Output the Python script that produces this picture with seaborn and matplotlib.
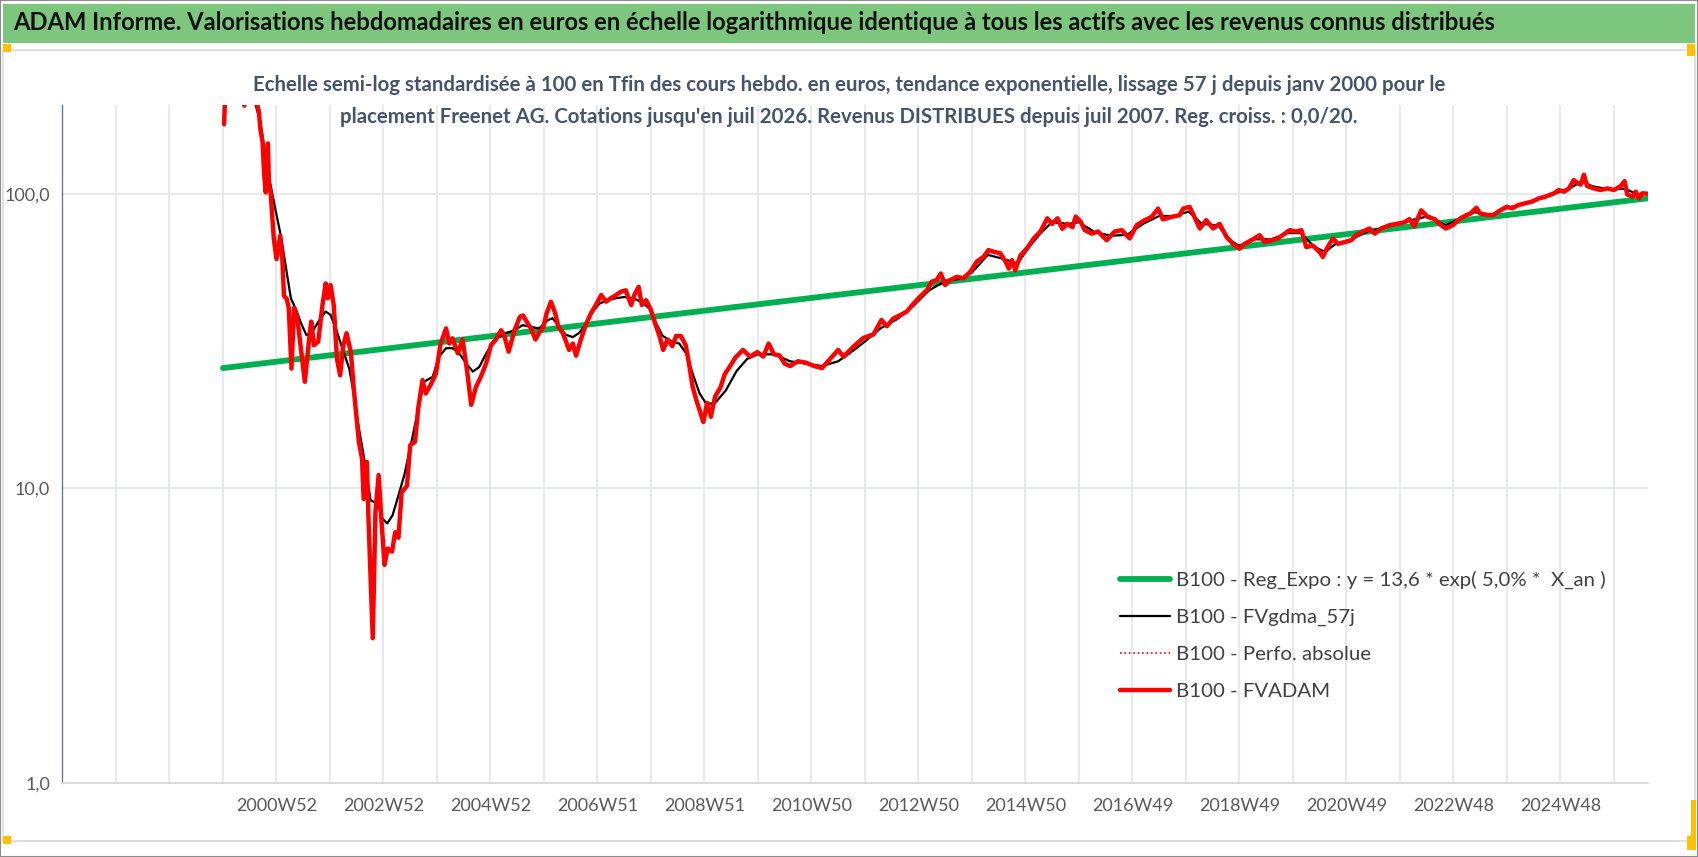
import numpy as np
import pandas as pd
import matplotlib
matplotlib.use('Agg')
import matplotlib.pyplot as plt
import seaborn as sns
from matplotlib.patches import Rectangle
from matplotlib.ticker import FixedLocator, NullLocator

# --- values (x = fractional year, y = base-100 value) ---
red_years = [2000.02, 2000.05, 2000.15, 2000.30, 2000.40, 2000.45, 2000.55, 2000.63, 2000.67, 2000.70,
             2000.74, 2000.77, 2000.80, 2000.84, 2000.86, 2000.89, 2000.95, 2001.00, 2001.07, 2001.11,
             2001.14, 2001.19, 2001.23, 2001.28, 2001.33, 2001.39, 2001.45, 2001.53, 2001.61, 2001.65,
             2001.70, 2001.78, 2001.86, 2001.92, 2001.96, 2002.01, 2002.07, 2002.13, 2002.19, 2002.25,
             2002.31, 2002.39, 2002.45, 2002.54, 2002.60, 2002.63, 2002.69, 2002.72, 2002.80, 2002.85,
             2002.91, 2002.96, 2003.02, 2003.08, 2003.16, 2003.22, 2003.28, 2003.34, 2003.44, 2003.50,
             2003.59, 2003.65, 2003.73, 2003.79, 2003.89, 2003.98, 2004.07, 2004.17, 2004.23, 2004.29,
             2004.39, 2004.48, 2004.57, 2004.64, 2004.73, 2004.82, 2004.92, 2005.01, 2005.10, 2005.20,
             2005.26, 2005.34, 2005.45, 2005.55, 2005.61, 2005.70, 2005.76, 2005.84, 2005.91, 2005.99,
             2006.05, 2006.13, 2006.21, 2006.27, 2006.35, 2006.41, 2006.47, 2006.54, 2006.60, 2006.69,
             2006.79, 2006.88, 2006.97, 2007.07, 2007.16, 2007.25, 2007.35, 2007.44, 2007.53, 2007.63,
             2007.69, 2007.77, 2007.83, 2007.91, 2008.00, 2008.08, 2008.16, 2008.23, 2008.31, 2008.40,
             2008.47, 2008.56, 2008.65, 2008.71, 2008.78, 2008.85, 2008.91, 2008.98, 2009.05, 2009.12,
             2009.20, 2009.30, 2009.38, 2009.48, 2009.58, 2009.72, 2009.85, 2009.99, 2010.10, 2010.20,
             2010.30, 2010.40, 2010.50, 2010.60, 2010.75, 2010.90, 2011.05, 2011.20, 2011.35, 2011.50,
             2011.60, 2011.78, 2011.97, 2012.16, 2012.31, 2012.41, 2012.53, 2012.66, 2012.78, 2012.91,
             2013.03, 2013.16, 2013.25, 2013.34, 2013.42, 2013.50, 2013.59, 2013.72, 2013.84, 2013.97,
             2014.09, 2014.22, 2014.31, 2014.41, 2014.53, 2014.63, 2014.69, 2014.75, 2014.81, 2014.91,
             2015.03, 2015.16, 2015.28, 2015.41, 2015.50, 2015.60, 2015.69, 2015.78, 2015.88, 2015.94,
             2016.03, 2016.11, 2016.24, 2016.36, 2016.52, 2016.67, 2016.80, 2016.95, 2017.08, 2017.23,
             2017.36, 2017.48, 2017.57, 2017.73, 2017.88, 2017.95, 2018.07, 2018.16, 2018.26, 2018.38,
             2018.51, 2018.63, 2018.76, 2018.88, 2019.00, 2019.10, 2019.22, 2019.38, 2019.47, 2019.60,
             2019.72, 2019.85, 2019.94, 2020.06, 2020.16, 2020.25, 2020.37, 2020.50, 2020.56, 2020.65,
             2020.75, 2020.84, 2020.97, 2021.09, 2021.18, 2021.31, 2021.43, 2021.53, 2021.65, 2021.81,
             2021.94, 2022.09, 2022.18, 2022.27, 2022.40, 2022.52, 2022.65, 2022.77, 2022.86, 2022.99,
             2023.13, 2023.24, 2023.32, 2023.43, 2023.50, 2023.63, 2023.75, 2023.88, 2024.00, 2024.10,
             2024.22, 2024.35, 2024.47, 2024.60, 2024.72, 2024.88, 2024.97, 2025.07, 2025.16, 2025.25,
             2025.32, 2025.38, 2025.44, 2025.50, 2025.63, 2025.75, 2025.88, 2026.00, 2026.13, 2026.20,
             2026.25, 2026.35, 2026.41, 2026.47, 2026.53, 2026.63]
red_vals = [172, 235, 300, 270, 199, 240, 260, 205, 190, 165,
            150, 116, 101, 148, 107, 101, 70.5, 60, 72, 60,
            45, 44, 41, 25.5, 41, 37.8, 30.6, 23, 32, 36.8,
            30.6, 31.5, 41.9, 49.6, 44.2, 49, 42, 27.6, 24.2, 30.6,
            33.6, 29, 21.3, 14.4, 12.6, 9.2, 12.3, 7.9, 3.1, 8.3,
            11.1, 7.9, 5.5, 6.25, 6.1, 7.1, 6.8, 9.7, 10.2, 14,
            14.4, 18.7, 23.3, 21, 22.6, 24.5, 31, 34.9, 31, 32.3,
            28.7, 32, 24.5, 19.2, 22.1, 23.9, 26.6, 30.6, 32, 34.4,
            32.9, 29.1, 34.4, 38.2, 38.6, 36.2, 34.9, 32, 33.7, 35.3,
            39.3, 43, 39.3, 35.3, 33.7, 31.6, 29.5, 31, 28.2, 32,
            36.2, 39.3, 41.9, 45.3, 43, 44.2, 45.3, 46.5, 47, 41.9,
            45.3, 48.3, 41.9, 43.5, 40.3, 36.2, 32.9, 29.5, 32, 30.4,
            32.9, 32.9, 30.6, 26.6, 22.1, 19.9, 18.4, 16.8, 19.5, 17.5,
            20.5, 22, 24.4, 26, 27.8, 29.5, 28, 29, 28, 31,
            28.5, 28.3, 26.5, 26, 27, 26.7, 26, 25.6, 27.5, 29.5,
            28, 30.2, 32.4, 33.3, 37.3, 35.5, 37.7, 38.7, 39.8, 42.4,
            44.7, 47.1, 50.3, 50.9, 53.6, 49, 50.9, 52.2, 51.6, 54.3,
            58.8, 61.1, 64.4, 63.5, 62.8, 58.8, 55.7, 59.5, 55, 61.8,
            65.3, 70.6, 74.4, 82.5, 79, 82.5, 76, 79, 77, 83.6,
            80.5, 75.2, 73.2, 74.4, 69.5, 74.4, 75.2, 70.5, 78.2, 81.3,
            83.4, 89, 81.8, 83.4, 84.5, 89, 90.2, 83.4, 76.2, 81.3,
            76.2, 79, 71.3, 67.6, 65, 67.6, 69.5, 72.3, 68.5, 69.5,
            70.5, 73.2, 75.2, 74.4, 75.2, 65.9, 66.7, 63.4, 61, 65.9,
            70.5, 67.6, 68.5, 69.5, 72.3, 74.4, 76.2, 73.2, 76.2, 78.2,
            79, 80, 82, 77.5, 87.8, 83.4, 82, 78.2, 76.2, 78.2,
            82.4, 84.5, 85.7, 89.6, 85.7, 84.7, 84.7, 87.9, 90.3, 89.2,
            91.6, 92.8, 94, 96.4, 97.7, 100.3, 102.9, 101.6, 104.2, 111.2,
            108.7, 107.4, 116, 106.2, 104.2, 102.9, 104.2, 102.9, 106.2, 110.3,
            99.4, 97.7, 101.6, 96.4, 100.3, 100]

black_years = [2000.05, 2000.30, 2000.50, 2000.61, 2000.70, 2000.80, 2000.89, 2000.99, 2001.08, 2001.17,
               2001.27, 2001.36, 2001.45, 2001.56, 2001.67, 2001.80, 2001.92, 2002.01, 2002.11, 2002.23,
               2002.36, 2002.45, 2002.54, 2002.64, 2002.76, 2002.89, 2002.98, 2003.07, 2003.17, 2003.26,
               2003.39, 2003.51, 2003.64, 2003.76, 2003.92, 2004.04, 2004.17, 2004.29, 2004.42, 2004.54,
               2004.67, 2004.79, 2004.92, 2005.04, 2005.16, 2005.29, 2005.45, 2005.60, 2005.76, 2005.91,
               2006.07, 2006.16, 2006.29, 2006.41, 2006.54, 2006.66, 2006.79, 2006.91, 2007.04, 2007.19,
               2007.35, 2007.50, 2007.66, 2007.82, 2007.97, 2008.10, 2008.22, 2008.38, 2008.53, 2008.66,
               2008.78, 2008.91, 2009.03, 2009.19, 2009.40, 2009.60, 2009.80, 2010.00, 2010.30, 2010.60,
               2010.90, 2011.20, 2011.50, 2011.80, 2012.00, 2012.30, 2012.60, 2012.90, 2013.20, 2013.50,
               2013.80, 2014.00, 2014.30, 2014.60, 2014.85, 2015.10, 2015.30, 2015.50, 2015.80, 2016.00,
               2016.30, 2016.60, 2016.90, 2017.20, 2017.50, 2017.80, 2018.05, 2018.30, 2018.60, 2018.85,
               2019.00, 2019.30, 2019.60, 2019.90, 2020.15, 2020.40, 2020.60, 2020.80, 2021.10, 2021.40,
               2021.70, 2022.00, 2022.30, 2022.55, 2022.85, 2023.10, 2023.40, 2023.70, 2024.00, 2024.30,
               2024.60, 2024.90, 2025.20, 2025.40, 2025.60, 2025.90, 2026.20, 2026.45, 2026.63]
black_vals = [260, 330, 260, 200, 175, 131.6, 107, 86.6, 72.3, 57.2,
              44.1, 40.7, 36.7, 33.1, 34, 37.2, 39.8, 38.8, 34.9, 29.9,
              25.5, 20.7, 16, 12.6, 9.1, 8.9, 7.9, 7.6, 8.1, 9.2,
              11.1, 14, 18.2, 23, 23.9, 28, 29.9, 29.9, 28.7, 26.6,
              24.9, 25.8, 28.7, 31, 32.7, 33.6, 34.4, 35.8, 35.3, 34.9,
              37.2, 37.8, 35.3, 33.2, 32.6, 33.7, 36.2, 39.8, 42.4, 43.5,
              44.2, 44.6, 44.2, 43, 40.8, 36.2, 32.9, 31.6, 31, 28.7,
              24.5, 21, 19.4, 19.4, 21.5, 25, 27.5, 28.5, 28.5, 27,
              26.5, 26, 27, 29.5, 31.5, 35, 37.5, 41.5, 47, 50.5,
              51.5, 54, 62, 60, 58, 67, 74, 80, 79, 80,
              74, 72, 72.5, 79, 84, 84, 87, 79, 78, 69,
              66.5, 70, 70, 73.5, 73.5, 66, 63.5, 67.5, 70, 74.5,
              76.5, 79.5, 82, 84, 78, 82, 86.5, 84.5, 89.5, 92,
              96, 100, 105, 110, 106, 103.5, 104, 99.5, 100]

trend_years = [2000.0, 2026.64]
trend_vals = [25.6, 96.5]

year_ticks = list(range(1997, 2027))
label_years = {2001: '2000W52', 2003: '2002W52', 2005: '2004W52', 2007: '2006W51',
               2009: '2008W51', 2011: '2010W50', 2013: '2012W50', 2015: '2014W50',
               2017: '2016W49', 2019: '2018W49', 2021: '2020W49', 2023: '2022W48',
               2025: '2024W48'}
y_ticks = [1, 10, 100]
y_labels = ['1,0', '10,0', '100,0']

title = ("ADAM Informe. Valorisations hebdomadaires en euros en échelle logarithmique "
         "identique à tous les actifs avec les revenus connus distribués")
subtitle1 = ("Echelle semi-log standardisée à 100 en Tfin des cours hebdo. en euros, tendance "
             "exponentielle, lissage 57 j depuis janv 2000 pour le")
subtitle2 = ("placement Freenet AG. Cotations jusqu'en juil 2026. Revenus DISTRIBUES depuis "
             "juil 2007. Reg. croiss. : 0,0/20.")
legend_labels = ['B100 - Reg_Expo : y = 13,6 * exp( 5,0% *  X_an )', 'B100 - FVgdma_57j',
                 'B100 - Perfo. absolue', 'B100 - FVADAM']

red_df = pd.DataFrame({'year': red_years, 'val': red_vals})
black_df = pd.DataFrame({'year': black_years, 'val': black_vals})
trend_df = pd.DataFrame({'year': trend_years, 'val': trend_vals})

sns.set_theme(style='white')
plt.rcParams['font.family'] = ['Lato', 'DejaVu Sans']

fig = plt.figure(figsize=(16.98, 8.57), dpi=100)
ax = fig.add_axes([0.0368, 0.0863, 0.9338, 0.7912])
renderer = fig.canvas.get_renderer()


def fit_width(txt, width_px):
    # shrink/grow a text so it spans the same width as in the reference
    w = txt.get_window_extent(renderer).width
    txt.set_fontsize(txt.get_fontsize() * width_px / w)
    return txt.get_fontsize()


# frame, title band and selection handles
fig.patches.append(Rectangle((0, 0), 1, 1, transform=fig.transFigure, fill=False,
                             edgecolor='#8C8C8C', lw=1.5, zorder=0))
fig.patches.append(Rectangle((3 / 1698, 0.0187), 1692 / 1698, 0.923, transform=fig.transFigure,
                             fill=False, edgecolor='#D9D9D9', lw=1.2, zorder=0))
fig.patches.append(Rectangle((3 / 1698, 1 - 43 / 857), 1692 / 1698, 39 / 857,
                             transform=fig.transFigure, facecolor='#7DC67D', edgecolor='none', zorder=1))
for (hx, hy, hw, hh) in [(3, 44, 8, 8), (1687, 44, 8, 12), (3, 836, 8, 8),
                         (1691, 800, 5, 40), (1687, 836, 9, 14)]:
    fig.patches.append(Rectangle((hx / 1698, 1 - (hy + hh) / 857), hw / 1698, hh / 857,
                                 transform=fig.transFigure, facecolor='#FFC000',
                                 edgecolor='none', zorder=2))

t_title = fig.text(0.0077, 0.9735, title, fontsize=16, fontweight='bold', color='#111111',
                   va='center', ha='left')
fit_width(t_title, 1490)
t_sub1 = fig.text(0.5, 0.901, subtitle1, fontsize=14, fontweight='bold', color='#44546A',
                  ha='center', va='center')
sub_fs = fit_width(t_sub1, 1196)
fig.text(0.5, 0.8635, subtitle2, fontsize=sub_fs, fontweight='bold', color='#44546A',
         ha='center', va='center')

# legend font size: the longest label spans ~430 px in the reference
probe = fig.text(0, 0, legend_labels[0], fontsize=14)
leg_fs = fit_width(probe, 430)
probe.remove()

# series, in Excel order so the red one ends on top
sns.lineplot(data=trend_df, x='year', y='val', ax=ax, color='#00B050', lw=4.2,
             estimator=None, label=legend_labels[0])
sns.lineplot(data=black_df, x='year', y='val', ax=ax, color='black', lw=1.6,
             estimator=None, label=legend_labels[1])
sns.lineplot(data=red_df, x='year', y='val', ax=ax, color='#FF0000', lw=1.2,
             linestyle=':', estimator=None, label=legend_labels[2])
sns.lineplot(data=red_df, x='year', y='val', ax=ax, color='#FF0000', lw=3.2,
             estimator=None, label=legend_labels[3])

ax.set_yscale('log')
ax.set_ylim(1, 200)
ax.set_xlim(1997, 2026.64)
ax.yaxis.set_major_locator(FixedLocator(y_ticks))
ax.yaxis.set_minor_locator(NullLocator())
ax.set_yticklabels(y_labels)
ax.set_xticks(year_ticks)
ax.set_xticklabels([label_years.get(y, '') for y in year_ticks])
ax.set_xlabel('')
ax.set_ylabel('')

ax.grid(True, which='major', color='#E2E6EC', lw=1.2)
for side in ['top', 'right']:
    ax.spines[side].set_visible(False)
ax.spines['left'].set_color('#4472C4')
ax.spines['left'].set_linewidth(0.9)
ax.spines['bottom'].set_color('#D9D9D9')
ax.spines['bottom'].set_linewidth(1.3)
ax.tick_params(axis='x', which='major', direction='out', length=6, width=1.2,
               color='#D9D9D9', labelsize=13, labelcolor='#595959', pad=5)
ax.tick_params(axis='y', length=0, labelsize=13, labelcolor='#595959', pad=9)

handles, labels = ax.get_legend_handles_labels()
leg = ax.legend(handles, labels, loc='upper left', bbox_to_anchor=(0.6537, 0.346),
                bbox_transform=fig.transFigure, frameon=False, fontsize=leg_fs,
                handlelength=2.45, handletextpad=0.3, labelspacing=0.97, borderpad=0)
for t in leg.get_texts():
    t.set_color('#404040')

fig.savefig('out.png', dpi=100)
